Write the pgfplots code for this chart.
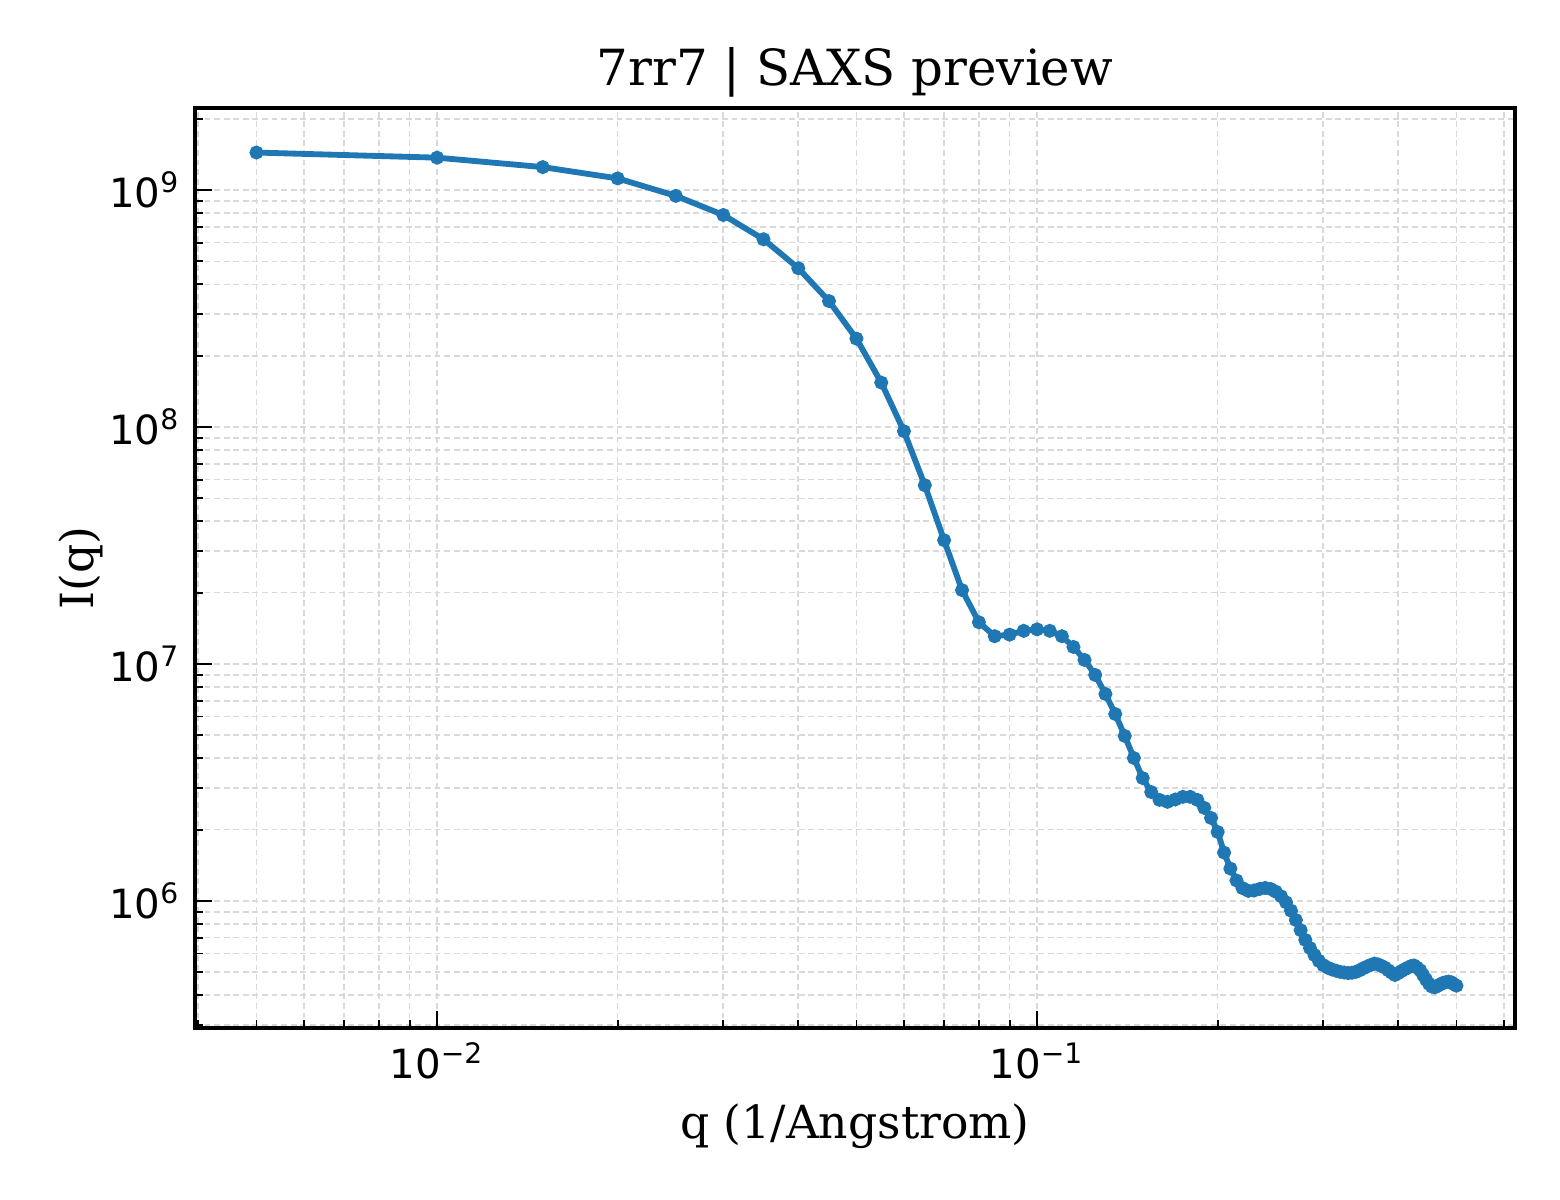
\documentclass[border=0pt]{standalone}
\usepackage{pgfplots}
\pgfplotsset{compat=1.18}
\usepackage{fontspec}
\setmainfont{DejaVu Serif}
\newfontfamily\ticksans{DejaVu Sans}
\definecolor{mplblue}{HTML}{1F77B4}
\definecolor{gridgray}{HTML}{D9D9D9}

\begin{document}
\begin{tikzpicture}
\begin{axis}[%
at={(0,0)}, anchor=south west,
width=316.8bp, height=220.8bp,
scale only axis,
xmode=log, ymode=log,
xmin=0.00395, xmax=0.626,
ymin=2.91e5, ymax=2.22e9,
xtick={0.01,0.1},
xticklabels={10\textsuperscript{−2},10\textsuperscript{−1}},
ytick={1e6,1e7,1e8,1e9},
yticklabels={10\textsuperscript{6},10\textsuperscript{7},10\textsuperscript{8},10\textsuperscript{9}},
minor xtick={0.004,0.005,0.006,0.007,0.008,0.009,0.02,0.03,0.04,0.05,0.06,0.07,0.08,0.09,0.2,0.3,0.4,0.5,0.6},
minor ytick={3e5,4e5,5e5,6e5,7e5,8e5,9e5,2e6,3e6,4e6,5e6,6e6,7e6,8e6,9e6,2e7,3e7,4e7,5e7,6e7,7e7,8e7,9e7,2e8,3e8,4e8,5e8,6e8,7e8,8e8,9e8,2e9},
tick pos=left, tick align=inside,
major tick length=4bp, minor tick length=2bp,
every tick/.style={black, line width=0.6bp},
every minor tick/.style={black, line width=0.45bp},
axis line style={line width=1bp},
grid=both,
major grid style={gridgray, line width=0.4bp, dash pattern=on 1.4bp off 0.9bp},
minor grid style={gridgray, line width=0.4bp, dash pattern=on 1.4bp off 0.9bp},
tick label style={font=\ticksans\fontsize{9.7}{12}\selectfont},
title={7rr7 | SAXS preview},
title style={font=\fontsize{12}{14}\selectfont, yshift=-6.8bp},
xlabel={q (1/Angstrom)},
ylabel={I(q)},
xlabel shift=-1bp,
ylabel shift=-5.3bp,
label style={font=\fontsize{11}{13}\selectfont},
]
\addplot[mplblue, line width=1.4bp, mark=*, mark size=0.95bp, mark options={solid, fill=mplblue, draw=mplblue}] coordinates {
(0.005,1.44e9) (0.01,1.37e9) (0.015,1.25e9) (0.02,1.12e9) (0.025,9.45e8)
(0.03,7.85e8) (0.035,6.2e8) (0.04,4.68e8) (0.045,3.4e8) (0.05,2.36e8)
(0.055,1.54e8) (0.06,9.6e7) (0.065,5.68e7) (0.07,3.33e7) (0.075,2.05e7)
(0.08,1.5e7) (0.085,1.31e7) (0.09,1.33e7) (0.095,1.38e7) (0.1,1.40e7)
(0.105,1.38e7) (0.11,1.31e7) (0.115,1.18e7) (0.12,1.04e7) (0.125,8.99e6)
(0.13,7.47e6) (0.135,6.15e6) (0.14,4.97e6) (0.145,4.01e6) (0.15,3.30e6)
(0.155,2.88e6) (0.16,2.67e6) (0.165,2.62e6) (0.17,2.68e6) (0.175,2.75e6)
(0.18,2.75e6) (0.185,2.67e6) (0.19,2.47e6) (0.195,2.24e6) (0.2,1.955e6)
(0.205,1.6e6) (0.21,1.37e6) (0.215,1.22e6) (0.22,1.133e6) (0.225,1.103e6)
(0.23,1.107e6) (0.235,1.124e6) (0.24,1.135e6) (0.245,1.124e6) (0.25,1.094e6)
(0.255,1.047e6) (0.26,9.87e5) (0.265,9.10e5) (0.27,8.31e5) (0.275,7.53e5)
(0.28,6.85e5) (0.285,6.33e5) (0.29,5.91e5) (0.295,5.58e5) (0.3,5.36e5)
(0.305,5.23e5) (0.31,5.14e5) (0.315,5.08e5) (0.32,5.02e5) (0.325,4.99e5)
(0.33,4.96e5) (0.335,4.98e5) (0.34,5.02e5) (0.345,5.10e5) (0.35,5.20e5)
(0.355,5.29e5) (0.36,5.37e5) (0.365,5.44e5) (0.37,5.40e5) (0.375,5.32e5)
(0.38,5.23e5) (0.385,5.10e5) (0.39,4.98e5) (0.395,4.87e5) (0.4,4.96e5)
(0.405,5.06e5) (0.41,5.15e5) (0.415,5.23e5) (0.42,5.31e5) (0.425,5.34e5)
(0.43,5.23e5) (0.435,5.10e5) (0.44,4.87e5) (0.445,4.66e5) (0.45,4.47e5)
(0.455,4.35e5) (0.46,4.32e5) (0.465,4.38e5) (0.47,4.45e5) (0.475,4.51e5)
(0.48,4.54e5) (0.485,4.56e5) (0.49,4.54e5) (0.495,4.46e5) (0.5,4.39e5)
};
\end{axis}
\pgfresetboundingbox
\path[use as bounding box] (-46.8bp,-41.28bp) rectangle (327.6bp,246.72bp);
\end{tikzpicture}
\end{document}
